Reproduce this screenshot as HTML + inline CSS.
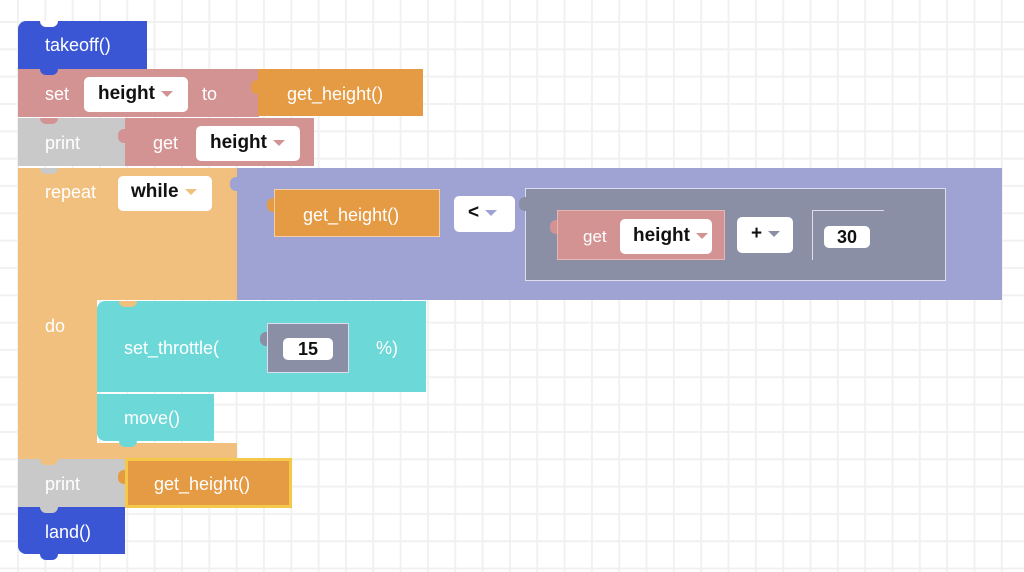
<!DOCTYPE html>
<html><head><style>
body{margin:0;width:1024px;height:572px;overflow:hidden;background:#fff;position:relative;font-family:"Liberation Sans",sans-serif;}
.grid{position:absolute;left:0;top:0;width:1024px;height:572px;
background-image:linear-gradient(to right,#f1f1f1 2px,transparent 2px),linear-gradient(to bottom,#f1f1f1 2px,transparent 2px);
background-size:27.33px 27.33px;background-position:17px 21px;}
.b{position:absolute;box-sizing:border-box;}
.t{position:absolute;color:#fff;font-size:18px;line-height:20px;white-space:nowrap;}
.w{position:absolute;background:#fff;border-radius:5px;color:#111;font-size:19px;font-weight:bold;box-sizing:border-box;line-height:20px;}
.ar{display:inline-block;width:0;height:0;border-left:6px solid transparent;border-right:6px solid transparent;margin-left:6px;vertical-align:middle;}
.n{position:absolute;width:18px;height:6px;border-radius:0 0 6px 6px;}
.p{position:absolute;width:7px;height:14px;border-radius:6px 0 0 6px;}
</style></head><body>
<div class="grid"></div>

<!-- takeoff -->
<div class="b" style="left:18px;top:21px;width:129px;height:48px;background:#3a56d4;border-radius:8px 0 0 0"></div>
<div class="n" style="left:40px;top:21px;background:#fff"></div>
<div class="t" style="left:45px;top:35px">takeoff()</div>

<!-- set row -->
<div class="b" style="left:18px;top:69px;width:241px;height:48px;background:#d49393"></div>
<div class="n" style="left:40px;top:69px;background:#3a56d4"></div>
<div class="t" style="left:45px;top:84px">set</div>
<div class="w" style="left:84px;top:77px;width:104px;height:35px;padding:7px 0 0 14px">height<span class="ar" style="border-top:6px solid #d49393"></span></div>
<div class="t" style="left:202px;top:84px">to</div>
<div class="b" style="left:258px;top:69px;width:165px;height:47px;background:#e59a44"></div>
<div class="p" style="left:251px;top:80px;background:#e59a44"></div>
<div class="t" style="left:287px;top:84px">get_height()</div>

<!-- print row -->
<div class="b" style="left:18px;top:118px;width:108px;height:48px;background:#c9c9c9"></div>
<div class="n" style="left:40px;top:118px;background:#d49393"></div>
<div class="t" style="left:45px;top:133px">print</div>
<div class="b" style="left:125px;top:118px;width:189px;height:48px;background:#d49393"></div>
<div class="p" style="left:118px;top:129px;background:#d49393"></div>
<div class="t" style="left:153px;top:133px">get</div>
<div class="w" style="left:196px;top:126px;width:104px;height:35px;padding:7px 0 0 14px">height<span class="ar" style="border-top:6px solid #d49393"></span></div>

<!-- repeat -->
<div class="b" style="left:18px;top:168px;width:220px;height:132px;background:#f1c07f"></div>
<div class="n" style="left:40px;top:168px;background:#c9c9c9"></div>
<div class="b" style="left:18px;top:299px;width:79px;height:160px;background:#f1c07f"></div>
<div class="b" style="left:18px;top:443px;width:219px;height:16px;background:#f1c07f"></div>
<div class="t" style="left:45px;top:182px">repeat</div>
<div class="w" style="left:118px;top:176px;width:94px;height:35px;padding:6px 0 0 13px">while<span class="ar" style="border-top:6px solid #f1c07f"></span></div>
<div class="t" style="left:45px;top:316px">do</div>

<!-- purple condition -->
<div class="b" style="left:237px;top:168px;width:765px;height:132px;background:#9fa3d4"></div>
<div class="p" style="left:230px;top:177px;background:#9fa3d4"></div>
<div class="b" style="left:274px;top:189px;width:166px;height:48px;background:#e59a44;border:1px solid #f3d0a5"></div>
<div class="p" style="left:267px;top:198px;background:#e59a44"></div>
<div class="t" style="left:303px;top:205px">get_height()</div>
<div class="w" style="left:454px;top:196px;width:61px;height:36px;padding:7px 0 0 14px">&lt;<span class="ar" style="border-top:6px solid #9fa3d4"></span></div>
<div class="b" style="left:525px;top:188px;width:421px;height:93px;background:#8b8fa6;border:1px solid #dde"></div>
<div class="p" style="left:519px;top:197px;background:#8b8fa6"></div>
<div class="b" style="left:557px;top:210px;width:168px;height:50px;background:#d49393;border:1px solid #e6b6b6"></div>
<div class="p" style="left:550px;top:220px;background:#d49393"></div>
<div class="t" style="left:583px;top:227px;font-size:17px">get</div>
<div class="w" style="left:620px;top:219px;width:92px;height:35px;padding:7px 0 0 13px">height<span class="ar" style="border-top:6px solid #d49393"></span></div>
<div class="w" style="left:737px;top:217px;width:56px;height:36px;padding:7px 0 0 14px">+<span class="ar" style="border-top:6px solid #8b8fa6"></span></div>
<div class="b" style="left:812px;top:210px;width:72px;height:50px;border-left:1px solid #dde;border-top:1px solid #dde"></div>
<div class="w" style="left:824px;top:226px;width:46px;height:22px;padding:1px 0 0 0;text-align:center;font-size:18px">30</div>

<!-- set_throttle -->
<div class="b" style="left:97px;top:301px;width:329px;height:91px;background:#6dd8d8;border-radius:8px 0 0 0"></div>
<div class="n" style="left:119px;top:301px;background:#f1c07f"></div>
<div class="t" style="left:124px;top:338px">set_throttle(</div>
<div class="b" style="left:267px;top:323px;width:82px;height:50px;background:#8b8fa6;border:1px solid #dde"></div>
<div class="p" style="left:260px;top:332px;background:#8b8fa6"></div>
<div class="w" style="left:283px;top:338px;width:50px;height:22px;padding:1px 0 0 0;text-align:center;font-size:18px">15</div>
<div class="t" style="left:376px;top:338px">%)</div>
<div class="b" style="left:97px;top:394px;width:117px;height:47px;background:#6dd8d8;border-radius:0 0 0 8px"></div>
<div class="n" style="left:119px;top:394px;background:#6dd8d8"></div>
<div class="n" style="left:119px;top:441px;background:#6dd8d8"></div>
<div class="t" style="left:124px;top:408px">move()</div>

<!-- print get_height -->
<div class="b" style="left:18px;top:459px;width:108px;height:48px;background:#c9c9c9"></div>
<div class="n" style="left:40px;top:459px;background:#f1c07f"></div>
<div class="t" style="left:45px;top:474px">print</div>
<div class="b" style="left:125px;top:458px;width:167px;height:50px;background:#e59a44;border:3px solid #f5c84a"></div>
<div class="p" style="left:118px;top:470px;background:#e59a44"></div>
<div class="t" style="left:154px;top:474px">get_height()</div>

<!-- land -->
<div class="b" style="left:18px;top:507px;width:107px;height:47px;background:#3a56d4;border-radius:0 0 0 8px"></div>
<div class="n" style="left:40px;top:507px;background:#c9c9c9"></div>
<div class="n" style="left:40px;top:554px;background:#3a56d4"></div>
<div class="t" style="left:45px;top:522px">land()</div>
</body></html>
